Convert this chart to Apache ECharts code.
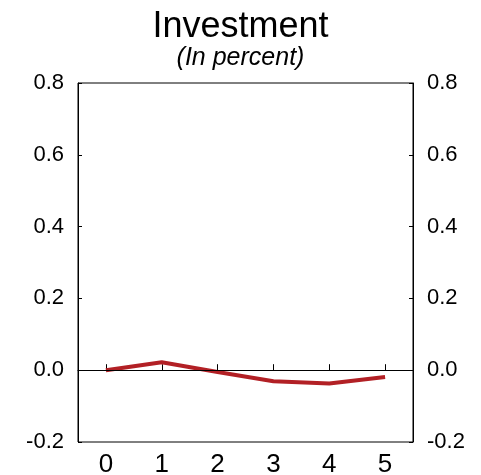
<!DOCTYPE html>
<html><head><meta charset="utf-8">
<script src="https://cdn.jsdelivr.net/npm/echarts@6/dist/echarts.min.js"></script>
<style>html,body{margin:0;padding:0;background:#fff}#c{width:481px;height:475px}</style>
</head><body><div id="c"></div>
<script>
const categories = ['0','1','2','3','4','5'];
const investment = [0.0, 0.022, -0.005, -0.031, -0.037, -0.019];
const yMin = -0.2, yMax = 0.8, yStep = 0.2;
const titleText = 'Investment';
const subtitleText = '(In percent)';
const FONT = 'Liberation Sans, Arial, sans-serif';

const chart = echarts.init(document.getElementById('c'), null, {renderer:'canvas'});
const yAxisBase = (pos) => ({
  type:'value', position:pos, min:yMin, max:yMax, interval:yStep,
  axisLine:{show:true, lineStyle:{color:'#000', width:1}},
  axisTick:{show:true, inside:true, length:4, lineStyle:{color:'#000'}},
  splitLine:{show:false},
  axisLabel:{color:'#000', fontSize:22, fontFamily:FONT, margin:14,
    formatter:(v)=>v.toFixed(1)}
});
chart.setOption({
  animation:false,
  backgroundColor:'#fff',
  title:[
    {text:titleText, left:'center', top:4, textStyle:{fontSize:36, fontWeight:'normal', color:'#000', fontFamily:FONT}},
    {text:subtitleText, left:'center', top:41, textStyle:{fontSize:25, fontWeight:'normal', fontStyle:'italic', color:'#000', fontFamily:FONT}}
  ],
  grid:{left:78, right:68, top:83, bottom:33, show:true, borderColor:'#000', borderWidth:1,
    containLabel:false, outerBoundsMode:'none'},
  xAxis:{type:'category', data:categories, boundaryGap:true,
    axisLine:{show:true, lineStyle:{color:'#000', width:1}},
    axisTick:{show:true, inside:true, alignWithLabel:true, length:6, lineStyle:{color:'#000'}},
    axisLabel:{color:'#000', fontSize:26, fontFamily:FONT, margin:10},
    splitLine:{show:false}},
  yAxis:[yAxisBase('left'), yAxisBase('right')],
  series:[
    {type:'line', data:[], z:1, silent:true,
     markLine:{silent:true, symbol:'none', label:{show:false},
       lineStyle:{color:'#000', width:1, type:'solid'}, data:[{yAxis:0}]}},
    {type:'line', data:investment, z:3, symbol:'none',
     lineStyle:{color:'#B22025', width:4}}
  ]
});
</script></body></html>
